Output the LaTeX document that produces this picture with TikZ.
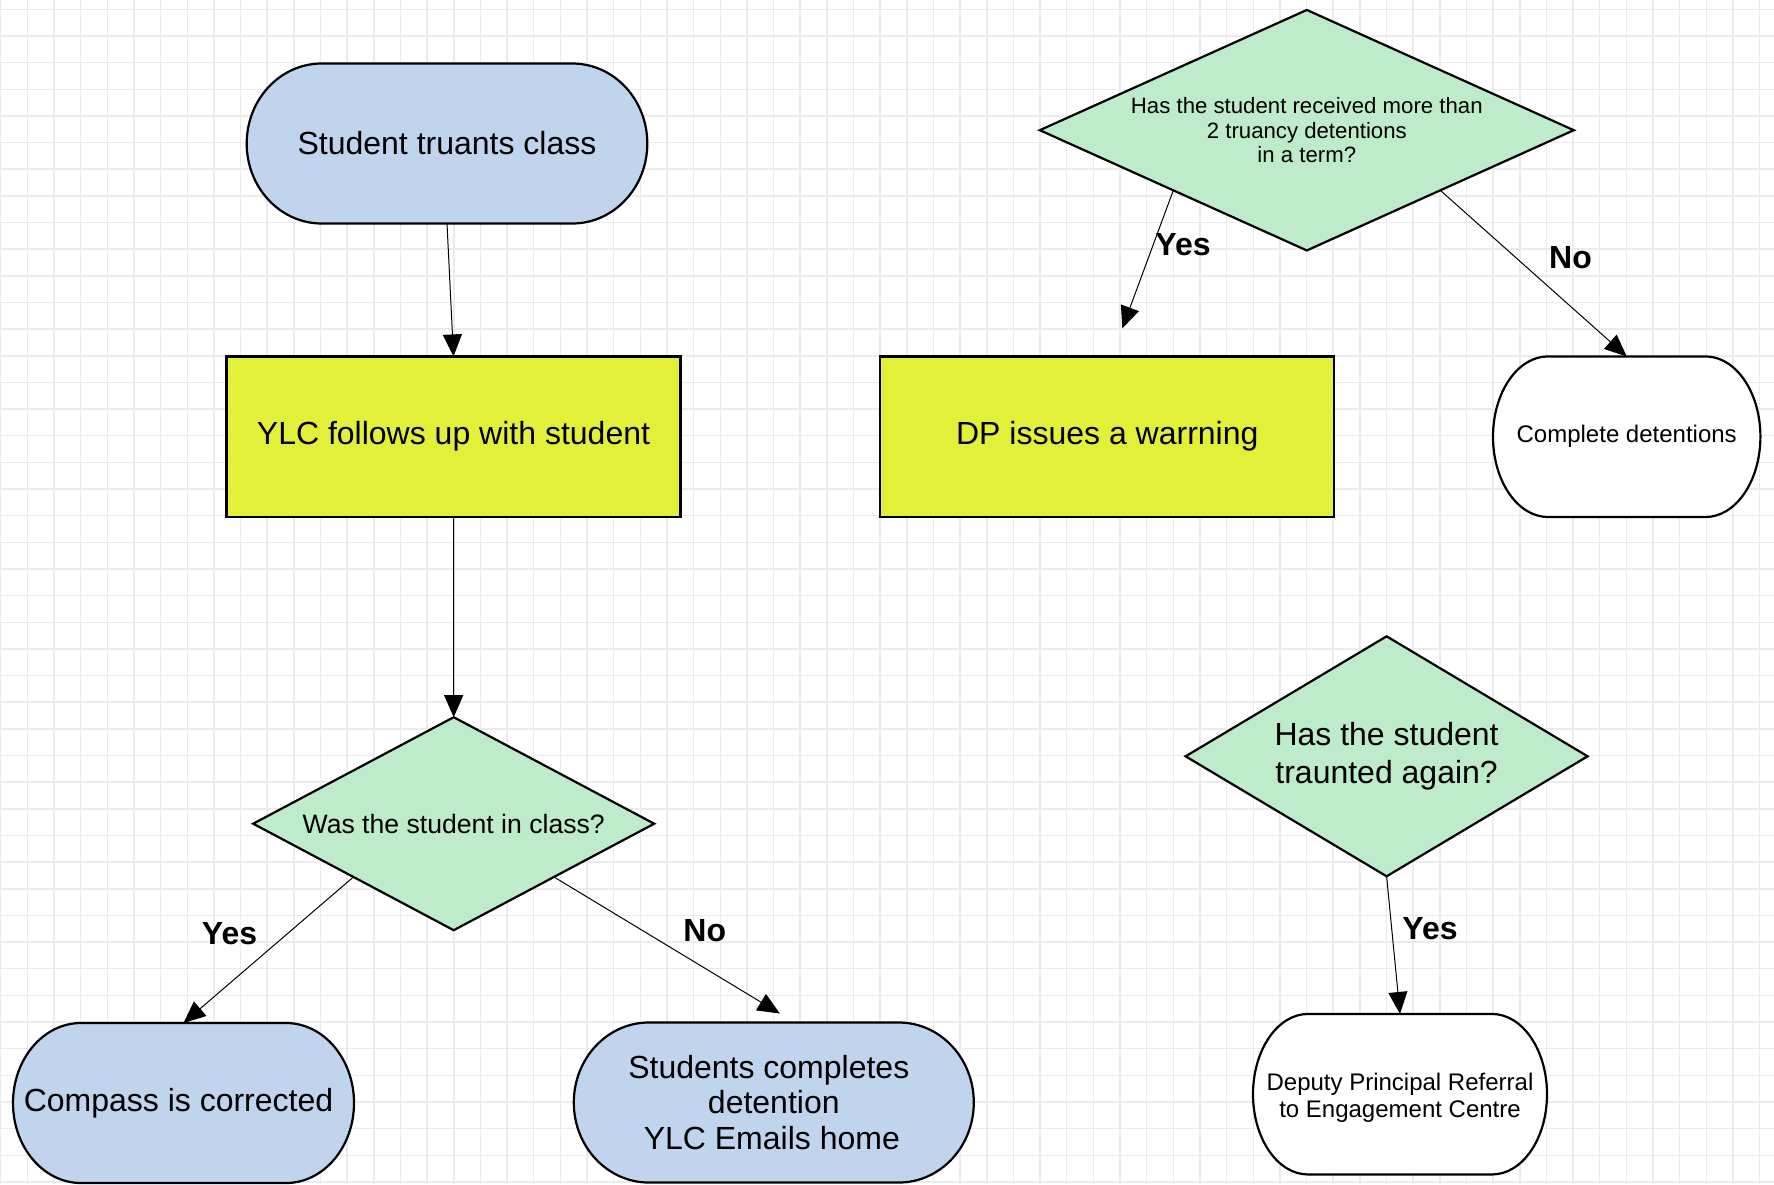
\documentclass[tikz,border=0pt]{standalone}
\usepackage{fontspec}
\setmainfont{Liberation Sans}
\usetikzlibrary{shapes.geometric, arrows.meta, calc}
\definecolor{tblue}{HTML}{C1D4EE}
\definecolor{ryellow}{HTML}{E3F03A}
\definecolor{dgreen}{HTML}{BEEBCA}
\definecolor{gridc}{HTML}{EBEBEB}
\newcommand{\szA}{\fontsize{32}{35.5}\selectfont}
\newcommand{\szQ}{\fontsize{26.6}{30}\selectfont}
\newcommand{\szS}{\fontsize{22.2}{24.6}\selectfont}
\newcommand{\szC}{\fontsize{24}{27}\selectfont}
\newcommand{\szD}{\fontsize{32}{37.3}\selectfont}
\newcommand{\szL}{\fontsize{32}{36}\selectfont}
% #1 name, #2 cx, #3 cy, #4 w, #5 h, #6 rx, #7 fill, #8 font, #9 text
\newcommand{\termshape}[9]{%
  \filldraw[termline, fill=#7] ({#2-#4/2+#6},{#3-#5/2}) -- ({#2+#4/2-#6},{#3-#5/2})
    arc[start angle=90, end angle=-90, x radius=#6*1pt, y radius=#5*0.5pt]
    -- ({#2-#4/2+#6},{#3+#5/2})
    arc[start angle=270, end angle=90, x radius=#6*1pt, y radius=#5*0.5pt] -- cycle;
  \node[termtext, font=#8, minimum width=#4*1pt, minimum height=#5*1pt] (#1) at (#2,#3) {#9};
}
\begin{document}
\begin{tikzpicture}[x=1pt,y=-1pt,
  termline/.style={line width=2.2pt, draw=black},
  termtext/.style={draw=none, align=center, inner sep=0pt, outer sep=0pt, text=black},
  procbox/.style={rectangle, draw=black, line width=2.2pt, fill=ryellow, minimum width=454pt, minimum height=160.4pt, inner sep=0pt, outer sep=0pt, align=center, font=\szA},
  decbox/.style={diamond, draw=black, line width=2.2pt, fill=dgreen, inner sep=0pt, outer sep=0pt, align=center},
  conn/.style={draw=black, line width=1pt, -{Triangle[length=22pt,width=19pt]}},
  lbl/.style={font=\szL\bfseries, inner sep=0pt, anchor=base, text=black},
  gridline/.style={draw=gridc, line width=1.5pt}]
\useasboundingbox (0,0) rectangle (1774,1184);
\fill[white] (0,0) rectangle (1774,1184);
\foreach \i in {0,...,66} { \draw[gridline] ({0.7+26.65*\i},0) -- ({0.7+26.65*\i},1184); }
\foreach \j in {0,...,44} { \draw[gridline] (0,{9.3+26.65*\j}) -- (1774,{9.3+26.65*\j}); }

% terminals
\termshape{t1}{447}{143.5}{400.6}{160}{75}{tblue}{\szA}{Student truants class}
\termshape{cmp}{183.5}{1103}{341}{160}{68}{tblue}{\szA}{Compass is corrected\hspace*{10pt}}
\termshape{stu}{773.8}{1102.5}{400}{160}{75}{tblue}{\szA}{Students completes\hspace*{10pt}\\ detention\hspace*{2pt}\\ YLC Emails home\hspace*{4pt}}
\termshape{cd}{1626.7}{436.7}{267.4}{160.6}{55}{white}{\szC}{Complete detentions}
\termshape{dep}{1400}{1094.2}{294}{160.5}{55}{white}{\szC}{\rule{0pt}{24pt}Deputy Principal Referral\\ to Engagement Centre}

% process boxes
\node[procbox] (r1) at (453.5,436.6) {YLC follows up with student};
\node[procbox] (dp) at (1107.3,436.6) {DP issues a warrning};

% decisions
\node[decbox, aspect=1.88, minimum width=401pt, minimum height=213pt, font=\szQ] (d1) at (453.7,823.7) {Was the student in class?};
\node[decbox, aspect=2.225, minimum width=534pt, minimum height=240.5pt, font=\szS] (d2) at (1306.8,130.2) {Has the student received more than\\ 2 truancy detentions\\ in a term?};
\node[decbox, aspect=1.675, minimum width=402pt, minimum height=240pt, font=\szD] (d3) at (1386.6,756.3) {Has the student\\ traunted again?};

% connectors
\draw[conn] (t1.south) -- (r1.north);
\draw[conn] (r1.south) -- (d1.north);
\draw[conn] (d1.south west) -- (cmp.north);
\draw[conn] (d1.south east) -- ($(stu.north)+(6,-9)$);
\draw[conn] (d2.south west) -- ($(dp.north)+(15,-28)$);
\draw[conn] (d2.south east) -- (cd.north);
\draw[conn] (d3.south) -- (dep.north);

% labels
\node[lbl] (ly1) at (229.5,944.3) {Yes};
\node[lbl] (ln1) at (704.8,941) {No};
\node[lbl] (ly2) at (1183,255.5) {Yes};
\node[lbl] (ln2) at (1570.5,268.6) {No};
\node[lbl] (ly3) at (1430,939) {Yes};
\end{tikzpicture}
\end{document}
